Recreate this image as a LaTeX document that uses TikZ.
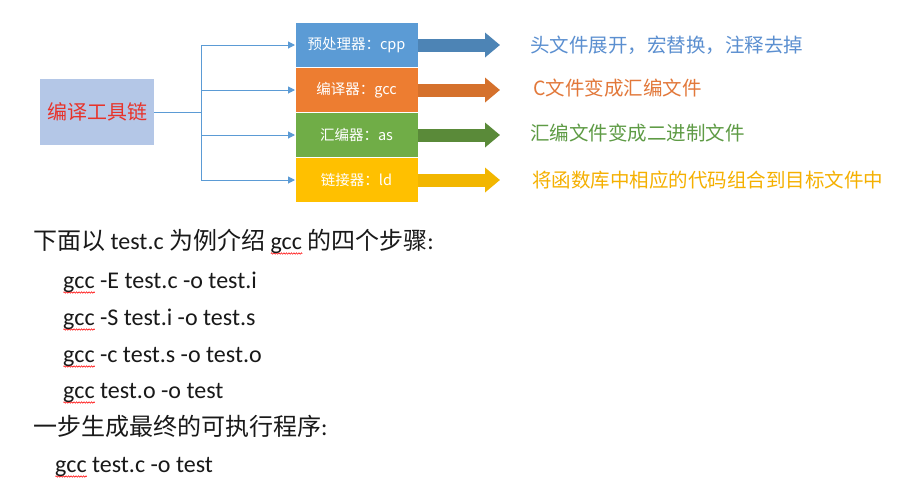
\documentclass[tikz,border=0pt]{standalone}
\usepackage{fontspec}
\setmainfont{Carlito}
\newfontfamily\cjk{Noto Sans CJK SC}
\usetikzlibrary{positioning}
\usetikzlibrary{arrows.meta}
\usetikzlibrary{decorations.pathmorphing}

\definecolor{chainfill}{HTML}{B4C7E7}
\definecolor{chainred}{HTML}{E8332A}
\definecolor{cppblue}{HTML}{5B9BD5}
\definecolor{gccorange}{HTML}{ED7D31}
\definecolor{asgreen}{HTML}{70AD47}
\definecolor{ldyellow}{HTML}{FFC000}
\definecolor{cpptext}{HTML}{5B8FD0}
\definecolor{gcctext}{HTML}{E2783A}
\definecolor{astext}{HTML}{5E9B45}
\definecolor{ldtext}{HTML}{F5B000}

\newsavebox\wavebox
\newcommand\spellwave[1]{\sbox\wavebox{#1}\rlap{\tikz[baseline=0pt]
  \draw[red, line width=0.5pt, decorate, decoration={zigzag, amplitude=0.8pt, segment length=2.5pt}]
  (0pt,-4.5pt) -- (\wd\wavebox,-4.5pt);}\usebox\wavebox}

\begin{document}
\begin{tikzpicture}[x=1pt,y=-1pt,
  stage/.style={draw=white, line width=0.6pt, outer sep=0pt, inner sep=0pt,
    minimum width=123pt, minimum height=45pt, text=white,
    font=\cjk\fontsize{14.5}{16}\selectfont},
  desc/.style={anchor=west, inner sep=0pt, font=\cjk\fontsize{19.5}{22}\selectfont},
  feed/.style={draw=cppblue, line width=1pt, -{Triangle[length=7pt,width=7pt]}},
  bigarrow/.style={line width=13pt, shorten >=30pt, -{Triangle[length=15pt,width=24pt]}},
  cmdline/.style={anchor=base west, inner sep=0pt, text=black!90,
    font=\fontsize{24}{28}\selectfont},
]
\fill[white] (0,0) rectangle (919,483);
\useasboundingbox (0,0) rectangle (919,483);

% tool chain box
\node[fill=chainfill, minimum width=114pt, minimum height=66pt, inner sep=0pt,
  text=chainred, font=\cjk\fontsize{20}{22}\selectfont] (chain) at (97,112) {编译工具链};
\coordinate[right=47pt of chain.east] (split);

% the four stages
\node[stage, fill=cppblue] (pre) at (356.5,45) {预处理器：cpp};
\node[stage, fill=gccorange, below=0pt of pre] (cc) {编译器：gcc};
\node[stage, fill=asgreen, below=0pt of cc] (as) {汇编器：as};
\node[stage, fill=ldyellow, below=0pt of as] (ld) {链接器：ld};

\draw[feed] (chain.east) -- (split) |- (pre.west);
\draw[feed] (chain.east) -- (split) |- (cc.west);
\draw[feed] (chain.east) -- (split) |- (as.west);
\draw[feed] (chain.east) -- (split) |- (ld.west);

% what each stage does
\node[desc, text=cpptext] (predesc) at (530,45) {头文件展开，宏替换，注释去掉};
\node[desc, text=gcctext] (ccdesc) at (533,88) {C文件变成汇编文件};
\node[desc, text=astext] (asdesc) at (530,133) {汇编文件变成二进制文件};
\node[desc, text=ldtext] (lddesc) at (532,180) {将函数库中相应的代码组合到目标文件中};

\draw[bigarrow, draw=cppblue!85!black] (pre.east) -- (pre.east -| predesc.west);
\draw[bigarrow, draw=gccorange!90!black] (cc.east) -- (cc.east -| predesc.west);
\draw[bigarrow, draw=asgreen!80!black] (as.east) -- (as.east -| predesc.west);
\draw[bigarrow, draw=ldyellow!95!black] (ld.east) -- (ld.east -| predesc.west);

% the gcc steps
\node[cmdline] (intro) at (33,249) {{\cjk 下面以} test.c {\cjk 为例介绍} \spellwave{gcc} {\cjk 的四个步骤}:};
\node[cmdline] (stepE) at (63,288) {\spellwave{gcc} -E test.c -o test.i};
\node[cmdline] (stepS) at (63,325) {\spellwave{gcc} -S test.i -o test.s};
\node[cmdline] (stepc) at (63,362) {\spellwave{gcc} -c test.s -o test.o};
\node[cmdline] (stepo) at (63,398) {\spellwave{gcc} test.o -o test};
\node[cmdline] (onestep) at (33,435) {{\cjk 一步生成最终的可执行程序}:};
\node[cmdline] (whole) at (55,472) {\spellwave{gcc} test.c -o test};
\end{tikzpicture}
\end{document}
